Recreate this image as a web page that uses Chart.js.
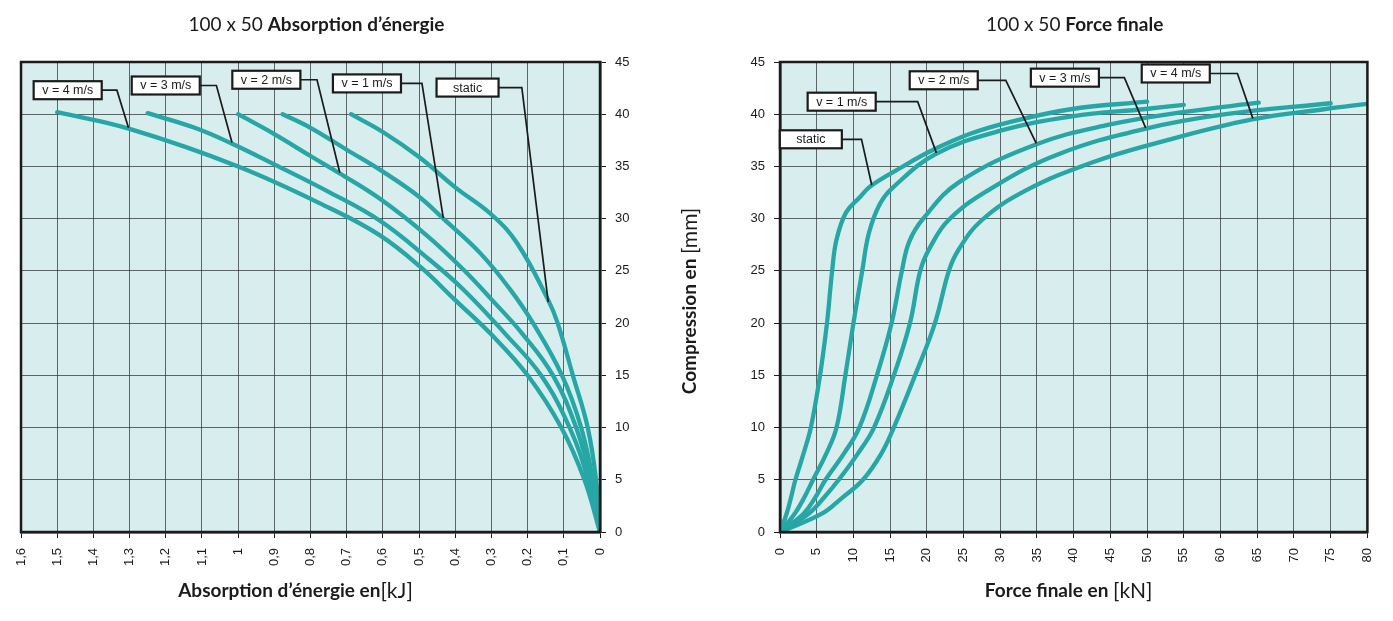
<!DOCTYPE html>
<html>
<head>
<meta charset="utf-8">
<script src="https://cdn.jsdelivr.net/npm/chart.js@4.4.1/dist/chart.umd.min.js"></script>
<style>
  html, body { margin: 0; padding: 0; background: #fff; }
  #wrap { position: relative; width: 1393px; height: 621px; overflow: hidden; }
  #wrap canvas { position: absolute; top: 0; }
</style>
</head>
<body>
<div id="wrap">
  <canvas id="energy" width="680" height="621" style="left:0"></canvas>
  <canvas id="force" width="713" height="621" style="left:680px"></canvas>
</div>
<script>
// --- data (x, compression mm) ---
const seriesNames = ["static", "v = 1 m/s", "v = 2 m/s", "v = 3 m/s", "v = 4 m/s"];

// Absorption d'énergie [kJ] vs compression [mm]
const energyStatic = [[0.688, 40], [0.6, 38.3], [0.5, 35.9], [0.4, 33.0], [0.3, 30.4], [0.228, 27.6], [0.143, 22.2], [0.117, 20], [0.075, 15], [0.034, 10], [0.011, 5], [0, 0]];
const energyV1 = [[0.877, 40], [0.8, 38.7], [0.7, 36.6], [0.6, 34.5], [0.5, 32.1], [0.433, 30.0], [0.331, 26.7], [0.25, 23.3], [0.185, 20], [0.105, 15], [0.052, 10], [0.02, 5], [0, 0]];
const energyV2 = [[1.0, 40], [0.9, 38.1], [0.8, 36.0], [0.72, 34.35], [0.608, 31.9], [0.479, 28.4], [0.377, 25.1], [0.298, 22.2], [0.215, 19.0], [0.13, 15], [0.066, 10], [0.025, 5], [0, 0]];
const energyV3 = [[1.25, 40.1], [1.12, 38.7], [1.018, 37.2], [0.9, 35.2], [0.746, 32.5], [0.608, 29.8], [0.479, 26.3], [0.377, 23.2], [0.26, 18.9], [0.163, 15], [0.084, 10], [0.033, 5], [0, 0]];
const energyV4 = [[1.5, 40.2], [1.3, 38.6], [1.0, 35.0], [0.746, 31.0], [0.608, 28.4], [0.497, 25.4], [0.4, 22.2], [0.3, 18.9], [0.2, 15], [0.107, 10], [0.043, 5], [0, 0]];
const energyTickLabels = ["0", "0,1", "0,2", "0,3", "0,4", "0,5", "0,6", "0,7", "0,8", "0,9", "1", "1,1", "1,2", "1,3", "1,4", "1,5", "1,6"];

// Force finale [kN] vs compression [mm]
const forceStatic = [[0, 0], [0.9, 1.75], [1.5, 3.3], [2.1, 5], [3.2, 7.5], [4.2, 10], [5.45, 15], [6.4, 20], [7.1, 25], [7.7, 28], [9.0, 30.6], [10.8, 32], [12.4, 33.15], [16.5, 34.9], [20.6, 36.5], [25.8, 38.1], [31, 39.2], [39.8, 40.5], [50, 41.2]];
const forceV1 = [[0, 0], [2.0, 1.75], [3.3, 3.3], [4.5, 5], [6.3, 7.5], [7.7, 10], [8.9, 15], [10, 20], [11.2, 25], [12.1, 28.6], [13.6, 31.4], [15.4, 33.0], [21.25, 36.2], [29.9, 38.4], [39.8, 39.8], [49.8, 40.5], [55, 40.9]];
const forceV2 = [[0, 0], [3.2, 1.75], [4.8, 3.3], [6.2, 5], [8.7, 7.5], [10.8, 10], [13.2, 15], [15.2, 20], [16.6, 25], [17.6, 27.8], [19.5, 30.0], [24.4, 33.5], [34.85, 37.1], [44.8, 39.0], [54.8, 40.2], [65.2, 41.1]];
const forceV3 = [[0, 0], [3.9, 1.75], [6.0, 3.3], [8.0, 5], [10.6, 7.5], [12.8, 10], [15.5, 15], [17.7, 20], [19.1, 25], [20.4, 27.2], [23.0, 29.9], [29.0, 33.0], [38.0, 36.2], [49.7, 38.6], [60.7, 40.0], [75, 41.05]];
const forceV4 = [[0, 0], [5.7, 1.75], [8.5, 3.3], [11.3, 5], [13.8, 7.5], [15.5, 10], [18.4, 15], [21.1, 20], [23.0, 25], [24.3, 27.0], [27.4, 29.8], [33.5, 32.7], [42.6, 35.4], [51.6, 37.3], [64.3, 39.5], [74.3, 40.5], [80, 41]];

const compressionTicks = [0, 5, 10, 15, 20, 25, 30, 35, 40, 45];

// label boxes: box centre, elbow x, point on the curve (data units)
const energyCallouts = [
  { label: "v = 4 m/s", box: [1.471, 42.3], elbowX: 1.335, target: [1.303, 38.7] },
  { label: "v = 3 m/s", box: [1.2, 42.75], elbowX: 1.06, target: [1.017, 37.3] },
  { label: "v = 2 m/s", box: [0.922, 43.3], elbowX: 0.782, target: [0.719, 34.4] },
  { label: "v = 1 m/s", box: [0.644, 42.95], elbowX: 0.492, target: [0.433, 30.05] },
  { label: "static", box: [0.366, 42.55], elbowX: 0.216, target: [0.143, 22.0] },
];
const forceCallouts = [
  { label: "static", box: [4.2, 37.6], elbowX: 11.1, target: [12.5, 33.2] },
  { label: "v = 1 m/s", box: [8.4, 41.2], elbowX: 18.75, target: [21.3, 36.3] },
  { label: "v = 2 m/s", box: [22.3, 43.25], elbowX: 30.75, target: [34.9, 37.2] },
  { label: "v = 3 m/s", box: [38.8, 43.5], elbowX: 46.9, target: [49.8, 38.7] },
  { label: "v = 4 m/s", box: [53.9, 43.9], elbowX: 62.3, target: [64.4, 39.6] },
];

const TEAL = "#27a6a6";
const PLOT_BG = "#d7edee";
const GRID = "rgba(50,55,55,0.75)";
const INK = "#1b1b1b";
const TICK_FONT = { family: "'Liberation Sans', Arial, sans-serif", size: 13 };

function toPoints(pairs) {
  return pairs.map(p => ({ x: p[0], y: p[1] }));
}

function curves(list) {
  return list.map((pairs, i) => ({
    label: seriesNames[i],
    data: toPoints(pairs),
    borderColor: TEAL,
    borderWidth: 4.3,
    borderCapStyle: "round",
    borderJoinStyle: "round",
    pointRadius: 0,
    fill: false,
    tension: 0.4,
  }));
}

// text made of several runs (bold + regular), centred on cx, cy
function drawRuns(ctx, runs, cx, cy, vertical) {
  ctx.save();
  ctx.translate(cx, cy);
  if (vertical) ctx.rotate(-Math.PI / 2);
  let total = 0;
  runs.forEach(r => { ctx.font = r.font; r.w = ctx.measureText(r.text).width; total += r.w; });
  let x = -total / 2;
  ctx.textBaseline = "middle";
  ctx.textAlign = "left";
  ctx.fillStyle = INK;
  runs.forEach(r => { ctx.font = r.font; ctx.fillText(r.text, x, 0); x += r.w; });
  ctx.restore();
}

function decor(cfg) {
  return {
    id: "decor",
    beforeDraw(chart) {
      const a = chart.chartArea, ctx = chart.ctx;
      ctx.save();
      ctx.fillStyle = PLOT_BG;
      ctx.fillRect(a.left, a.top, a.right - a.left, a.bottom - a.top);
      ctx.restore();
    },
    afterDatasetsDraw(chart) {
      const a = chart.chartArea, ctx = chart.ctx;
      const sx = chart.scales.x, sy = chart.scales.y;
      ctx.save();
      ctx.strokeStyle = INK;
      ctx.lineWidth = 2.5;
      ctx.strokeRect(a.left, a.top, a.right - a.left, a.bottom - a.top);

      ctx.font = "12.5px 'Liberation Sans', Arial, sans-serif";
      cfg.callouts.forEach(c => {
        const bx = sx.getPixelForValue(c.box[0]);
        const by = sy.getPixelForValue(c.box[1]);
        const w = Math.max(ctx.measureText(c.label).width + 17, 62);
        const h = 18;
        const ex = sx.getPixelForValue(c.elbowX);
        const tx = sx.getPixelForValue(c.target[0]);
        const ty = sy.getPixelForValue(c.target[1]);
        ctx.strokeStyle = INK;
        ctx.lineWidth = 1.7;
        ctx.beginPath();
        ctx.moveTo(bx + w / 2, by);
        ctx.lineTo(ex, by);
        ctx.lineTo(tx, ty);
        ctx.stroke();
        ctx.fillStyle = "#fff";
        ctx.fillRect(bx - w / 2, by - h / 2, w, h);
        ctx.lineWidth = 2.2;
        ctx.strokeRect(bx - w / 2, by - h / 2, w, h);
        ctx.fillStyle = INK;
        ctx.textAlign = "center";
        ctx.textBaseline = "middle";
        ctx.fillText(c.label, bx, by + 0.5);
      });
      ctx.restore();
    },
    afterDraw(chart) {
      const a = chart.chartArea, ctx = chart.ctx;
      const mid = (a.left + a.right) / 2;
      drawRuns(ctx, cfg.title, mid + cfg.titleDx, 25, false);
      drawRuns(ctx, cfg.xTitle, mid + cfg.xTitleDx, 591, false);
      if (cfg.yTitle) drawRuns(ctx, cfg.yTitle, cfg.yTitleX, (a.top + a.bottom) / 2 + 4, true);
    },
  };
}

const BOLD_T = "bold 19px Lato, 'Open Sans', sans-serif";
const REG_T = "19px Lato, 'Open Sans', sans-serif";
const BOLD_A = "bold 19px Lato, 'Open Sans', sans-serif";
const REG_A = "21px Lato, 'Open Sans', sans-serif";

function baseScales(xMin, xMax, xStep, xReverse, xLabels, yPos, yWidth) {
  return {
    x: {
      type: "linear",
      position: "bottom",
      min: xMin, max: xMax, reverse: xReverse,
      afterFit: s => { s.height = 89; },
      afterBuildTicks: s => {
        const t = [];
        for (let i = 0; i * xStep <= xMax + 1e-9; i++) t.push({ value: +(i * xStep).toFixed(4) });
        s.ticks = t;
      },
      ticks: {
        autoSkip: false,
        minRotation: 90, maxRotation: 90,
        padding: 10,
        color: INK,
        font: TICK_FONT,
        callback: (v) => xLabels ? xLabels[Math.round(v / xStep)] : String(Math.round(v)),
      },
      grid: { color: GRID, lineWidth: 1, tickLength: 6, tickColor: INK },
      border: { color: INK, width: 2.5 },
    },
    y: {
      type: "linear",
      position: yPos,
      min: 0, max: 45,
      afterFit: s => { s.width = yWidth; },
      afterBuildTicks: s => { s.ticks = compressionTicks.map(v => ({ value: v })); },
      ticks: { padding: 9, color: INK, font: TICK_FONT },
      grid: { color: GRID, lineWidth: 1, tickLength: 6, tickColor: INK },
      border: { color: INK, width: 2.5 },
    },
  };
}

new Chart(document.getElementById("energy"), {
  type: "line",
  data: { datasets: curves([energyStatic, energyV1, energyV2, energyV3, energyV4]) },
  options: {
    responsive: false,
    animation: false,
    layout: { padding: { left: 21, top: 62, right: 0, bottom: 0 } },
    plugins: { legend: { display: false }, tooltip: { enabled: false } },
    scales: baseScales(0, 1.6, 0.1, true, energyTickLabels, "right", 80),
  },
  plugins: [decor({
    title: [{ text: "100 x 50 ", font: REG_T }, { text: "Absorption d\u2019\u00e9nergie", font: BOLD_T }],
    titleDx: 6,
    xTitle: [{ text: "Absorption d\u2019\u00e9nergie en", font: BOLD_A }, { text: "[kJ]", font: REG_A }],
    xTitleDx: -15,
    callouts: energyCallouts,
  })],
});

new Chart(document.getElementById("force"), {
  type: "line",
  data: { datasets: curves([forceStatic, forceV1, forceV2, forceV3, forceV4]) },
  options: {
    responsive: false,
    animation: false,
    layout: { padding: { left: 0, top: 62, right: 25, bottom: 0 } },
    plugins: { legend: { display: false }, tooltip: { enabled: false } },
    scales: baseScales(0, 80, 5, false, null, "left", 100),
  },
  plugins: [decor({
    title: [{ text: "100 x 50 ", font: REG_T }, { text: "Force finale", font: BOLD_T }],
    titleDx: 1,
    xTitle: [{ text: "Force finale en ", font: BOLD_A }, { text: "[kN]", font: REG_A }],
    xTitleDx: -5,
    yTitle: [{ text: "Compression en ", font: BOLD_A }, { text: "[mm]", font: REG_A }],
    yTitleX: 10,
    callouts: forceCallouts,
  })],
});
</script>
</body>
</html>
